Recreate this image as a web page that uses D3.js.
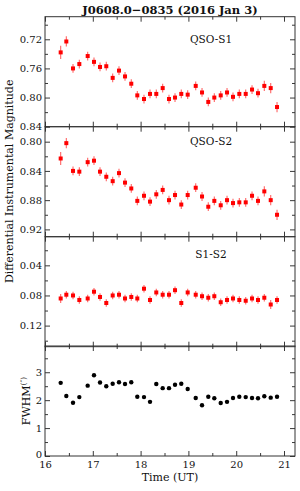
<!DOCTYPE html>
<html><head><meta charset="utf-8">
<script src="https://cdn.jsdelivr.net/npm/d3@7"></script>
<style>
html,body{margin:0;padding:0;background:#fff;}
svg{display:block;}
text{font-family:"DejaVu Serif",serif;fill:#111;}
</style></head>
<body>
<svg id="c" width="300" height="491"></svg>
<script>
// ---- data ----
const times = [16.328,16.446,16.586,16.718,16.893,17.025,17.151,17.282,17.416,17.548,17.674,17.805,17.931,18.071,18.197,18.328,18.462,18.594,18.720,18.851,18.985,19.153,19.285,19.416,19.542,19.676,19.808,19.933,20.065,20.199,20.331,20.456,20.588,20.722,20.854];
const qsoS1 = [0.738,0.723,0.760,0.754,0.743,0.751,0.758,0.757,0.773,0.763,0.771,0.781,0.797,0.802,0.795,0.795,0.787,0.802,0.800,0.795,0.796,0.784,0.793,0.806,0.800,0.797,0.793,0.799,0.795,0.795,0.789,0.794,0.784,0.787,0.813];
const qsoS1Err = [0.009,0.007,0.006,0.006,0.006,0.006,0.006,0.006,0.006,0.006,0.006,0.006,0.006,0.006,0.006,0.006,0.006,0.006,0.006,0.006,0.006,0.006,0.006,0.006,0.006,0.006,0.006,0.006,0.006,0.006,0.006,0.006,0.007,0.007,0.007];
const qsoS2 = [0.823,0.802,0.840,0.841,0.828,0.826,0.841,0.848,0.854,0.843,0.856,0.864,0.881,0.874,0.882,0.872,0.866,0.880,0.873,0.886,0.873,0.863,0.875,0.889,0.881,0.887,0.880,0.884,0.883,0.883,0.874,0.881,0.868,0.880,0.900];
const qsoS2Err = [0.009,0.007,0.006,0.006,0.006,0.006,0.006,0.006,0.006,0.006,0.006,0.006,0.006,0.006,0.006,0.006,0.006,0.006,0.006,0.006,0.006,0.006,0.006,0.006,0.006,0.006,0.006,0.006,0.006,0.006,0.006,0.006,0.007,0.007,0.007];
const s1s2 = [0.084,0.079,0.080,0.086,0.084,0.075,0.082,0.090,0.080,0.079,0.084,0.082,0.084,0.071,0.086,0.076,0.079,0.079,0.073,0.090,0.076,0.079,0.081,0.083,0.081,0.089,0.086,0.084,0.086,0.087,0.084,0.086,0.083,0.092,0.086];
const s1s2Err = [0.006,0.005,0.005,0.005,0.005,0.005,0.005,0.005,0.005,0.005,0.005,0.005,0.005,0.005,0.005,0.005,0.005,0.005,0.005,0.005,0.005,0.005,0.005,0.005,0.005,0.005,0.005,0.005,0.005,0.005,0.005,0.005,0.005,0.006,0.005];
const fwhm = [2.62,2.15,1.91,2.11,2.52,2.89,2.63,2.50,2.59,2.64,2.58,2.64,2.12,2.11,1.94,2.58,2.43,2.43,2.55,2.59,2.40,2.08,1.82,2.12,2.07,1.90,1.94,2.08,2.12,2.11,2.08,2.07,2.14,2.09,2.12];

const xTicks = [16,17,18,19,20,21];
const xMinor = [16.5,17.5,18.5,19.5,20.5];
const panelLabels = ["QSO-S1","QSO-S2","S1-S2",""];
const titleText = "J0608.0\u22120835 (2016 Jan 3)";

// ---- layout ----
const L = 45, R = 295;
const tops = [16.7,126.7,236.7,346];
const PH = 110;
const svg = d3.select("#c");
const x = d3.scaleLinear().domain([16,21.23]).range([L,R]);

const panels = [
  {vals:qsoS1, err:qsoS1Err, dom:[0.689,0.840], major:[0.72,0.76,0.80,0.84], minor:[0.70,0.74,0.78,0.82], fmt:d3.format(".2f"), kind:"sq"},
  {vals:qsoS2, err:qsoS2Err, dom:[0.7795,0.930], major:[0.80,0.84,0.88,0.92], minor:[0.82,0.86,0.90], fmt:d3.format(".2f"), kind:"sq"},
  {vals:s1s2, err:s1s2Err, dom:[0.002,0.148], major:[0.04,0.08,0.12], minor:[0.02,0.06,0.10,0.14], fmt:d3.format(".2f"), kind:"sq"},
  {vals:fwhm, err:null, dom:[0,3.94], major:[0,1,2,3], minor:[0.5,1.5,2.5,3.5], fmt:d3.format("d"), kind:"dot"}
];

function styleAxis(g){
  g.select(".domain").remove();
  g.selectAll(".tick line").attr("stroke","#222").attr("stroke-width",0.9);
  g.selectAll(".tick text").style("font-family","DejaVu Serif").style("font-size","10px").attr("fill","#111");
}

panels.forEach((p,i)=>{
  const top = tops[i], bot = top+PH;
  const y = d3.scaleLinear().domain(p.dom).range(p.kind==="dot"?[bot,top]:[top,bot]);
  const g = svg.append("g");
  // left axis
  const la = g.append("g").attr("transform",`translate(${L},0)`)
    .call(d3.axisLeft(y).tickValues(p.major).tickFormat(p.fmt).tickSizeInner(-5).tickSizeOuter(0).tickPadding(3)).call(styleAxis);
  if(p.kind==="dot"){
    la.selectAll(".tick text").filter(d=>d===0).attr("dy","0.1em");
  }
  g.append("g").attr("transform",`translate(${L},0)`)
    .call(d3.axisLeft(y).tickValues(p.minor).tickFormat("").tickSizeInner(-3).tickSizeOuter(0)).call(styleAxis);
  // right axis
  g.append("g").attr("transform",`translate(${R},0)`)
    .call(d3.axisRight(y).tickValues(p.major).tickFormat("").tickSizeInner(-5).tickSizeOuter(0)).call(styleAxis);
  g.append("g").attr("transform",`translate(${R},0)`)
    .call(d3.axisRight(y).tickValues(p.minor).tickFormat("").tickSizeInner(-3).tickSizeOuter(0)).call(styleAxis);
  // top/bottom axes
  g.append("g").attr("transform",`translate(0,${top})`)
    .call(d3.axisTop(x).tickValues(xTicks).tickFormat("").tickSizeInner(-5).tickSizeOuter(0)).call(styleAxis);
  g.append("g").attr("transform",`translate(0,${top})`)
    .call(d3.axisTop(x).tickValues(xMinor).tickFormat("").tickSizeInner(-3).tickSizeOuter(0)).call(styleAxis);
  g.append("g").attr("transform",`translate(0,${bot})`)
    .call(d3.axisBottom(x).tickValues(xTicks).tickFormat(i===3?d3.format("d"):"").tickSizeInner(-5).tickSizeOuter(0).tickPadding(5)).call(styleAxis);
  g.append("g").attr("transform",`translate(0,${bot})`)
    .call(d3.axisBottom(x).tickValues(xMinor).tickFormat("").tickSizeInner(-3).tickSizeOuter(0)).call(styleAxis);
  // frame
  g.append("rect").attr("x",L).attr("y",top).attr("width",R-L).attr("height",PH)
    .attr("fill","none").attr("stroke","#333").attr("stroke-width",1);

  if(p.kind==="sq"){
    g.append("g").selectAll("line").data(p.vals).join("line")
      .attr("x1",(d,j)=>x(times[j])).attr("x2",(d,j)=>x(times[j]))
      .attr("y1",(d,j)=>y(d-p.err[j])).attr("y2",(d,j)=>y(d+p.err[j]))
      .attr("stroke","#ff3030").attr("stroke-width",1.1).attr("opacity",0.75);
    g.append("g").selectAll("rect").data(p.vals).join("rect")
      .attr("x",(d,j)=>x(times[j])-2).attr("y",d=>y(d)-2)
      .attr("width",4).attr("height",4).attr("fill","#ff0000");
  } else {
    g.append("g").selectAll("circle").data(p.vals).join("circle")
      .attr("cx",(d,j)=>x(times[j])).attr("cy",d=>y(d)).attr("r",2.2).attr("fill","#000");
  }
  if(panelLabels[i]){
    g.append("text").attr("x",211).attr("y",[43,145,257.5][i]).attr("text-anchor","middle")
      .style("font-size","10.5px").text(panelLabels[i]);
  }
});

// title
svg.append("text").attr("x",170).attr("y",13.5).attr("text-anchor","middle")
  .style("font-size","11.5px").style("font-weight","bold").text(titleText);
// y labels
svg.append("text").attr("transform","translate(13,181.3) rotate(-90)").attr("text-anchor","middle")
  .style("font-size","11px").text("Differential Instrumental Magnitude");
const fw = svg.append("text").attr("transform","translate(30,401) rotate(-90)").attr("text-anchor","middle")
  .style("font-size","11px");
fw.append("tspan").text("FWHM");
fw.append("tspan").attr("dy",-4).style("font-size","7.5px").text("(\u2033)");
// x label
svg.append("text").attr("x",170).attr("y",481).attr("text-anchor","middle")
  .style("font-size","11px").text("Time (UT)");
</script>
</body></html>
